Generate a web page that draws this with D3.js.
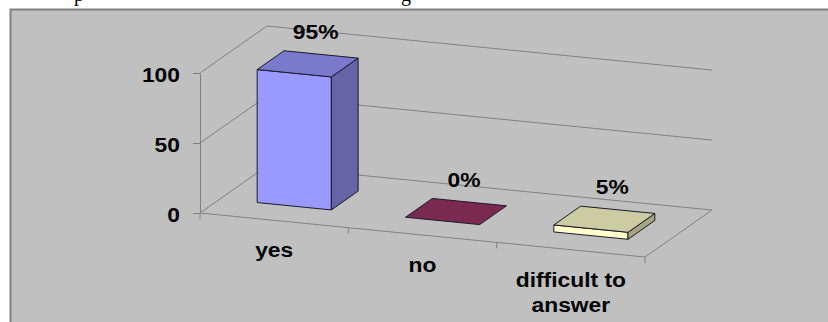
<!DOCTYPE html>
<html>
<head>
<meta charset="utf-8">
<script src="https://cdn.jsdelivr.net/npm/d3@7"></script>
<style>
  html, body { margin: 0; padding: 0; background: #ffffff; }
  svg { display: block; }
</style>
</head>
<body>
<svg id="chart" width="828" height="322"></svg>
<script>
// Survey answers, in percent
const categories = ["yes", "no", "difficult to answer"];
const values = [95, 0, 5];
const valueLabels = ["95%", "0%", "5%"];
const valueTicks = [0, 50, 100];
const barColors = ["#9999ff", "#993366", "#ffffcc"];

const W = 828, H = 322;
const svg = d3.select("#chart");
const FONT = "'Liberation Sans', Arial, sans-serif";
const STRETCH = 1.17; // horizontal stretch of the chart text

// Oblique 3D projection: category axis runs along the sloped floor,
// depth goes up-right, values go straight up.
const origin = { x: 200, y: 213 };
const floorLen = 445;
const floorSlope = 0.099;
const depthVec = { x: 67, y: -47 };

const xBand = d3.scaleBand()
  .domain(categories)
  .range([0, floorLen])
  .paddingInner(0.5)
  .paddingOuter(0.25);
const yVal = d3.scaleLinear().domain([0, 100]).range([0, 140]);
const zDepth = d3.scaleLinear().domain([0, 1]).range([0, 1]);

function P(c, v, d) {
  const k = zDepth(d);
  return [
    origin.x + c + depthVec.x * k,
    origin.y + floorSlope * c - yVal(v) + depthVec.y * k
  ];
}

// Chart panel
svg.append("rect")
  .attr("x", 10.5).attr("y", 9.5)
  .attr("width", W).attr("height", H)
  .attr("fill", "#c0c0c0")
  .attr("stroke", "#808080").attr("stroke-width", 2);

// Descenders of the preceding text line
const above = svg.append("g")
  .attr("font-family", "'Liberation Serif', 'Times New Roman', serif")
  .attr("font-size", 20).attr("fill", "#000");
above.append("text").attr("x", 74).attr("y", 0.5).text("p");
above.append("text").attr("x", 401).attr("y", 0.5).text("g");

const grid = svg.append("g")
  .attr("stroke", "#808080").attr("stroke-width", 1).attr("fill", "none");
const line = d3.line();

// Left wall diagonals and back wall gridlines
valueTicks.forEach(v => {
  grid.append("path").attr("d", line([P(0, v, 0), P(0, v, 1)]));
  grid.append("path").attr("d", line([P(0, v, 1), P(floorLen, v, 1)]));
});
// Floor: front edge and right edge
grid.append("path").attr("d", line([P(0, 0, 0), P(floorLen, 0, 0)]));
grid.append("path").attr("d", line([P(floorLen, 0, 0), P(floorLen, 0, 1)]));

// Category tick marks on the floor front edge
const step = xBand.step();
const boundaries = d3.range(categories.length + 1).map(i => i * step);
boundaries.forEach(c => {
  const p = P(c, 0, 0);
  grid.append("path").attr("d", line([p, [p[0], p[1] + 6]]));
});

// Value axis on the front-left edge
const yScreen = d3.scaleLinear().domain([0, 100]).range([origin.y, origin.y - yVal(100)]);
const yAxis = svg.append("g")
  .attr("transform", `translate(${origin.x},0)`)
  .call(d3.axisLeft(yScreen).tickValues(valueTicks).tickSize(7).tickSizeOuter(0).tickPadding(13));
yAxis.selectAll("path, line").attr("stroke", "#808080").attr("shape-rendering", "crispEdges");
yAxis.selectAll("text")
  .attr("x", null).attr("dy", null)
  .attr("transform", "translate(-20,8) scale(" + STRETCH + ",1)")
  .attr("font-family", FONT).attr("font-size", 19.5).attr("font-weight", "bold")
  .attr("fill", "#000");

// Bars
const depth0 = 0.3, depth1 = 0.7;
const bars = svg.append("g").attr("stroke", "#1a1a2a").attr("stroke-width", 1)
  .attr("stroke-linejoin", "round");
categories.forEach((cat, i) => {
  const x0 = xBand(cat), x1 = x0 + xBand.bandwidth();
  const v = values[i];
  const base = d3.color(barColors[i]);
  const topC = base.darker(0.63).formatHex();
  const sideC = base.darker(1.2).formatHex();
  const poly = pts => "M" + pts.map(p => p.join(",")).join("L") + "Z";
  if (v > 0) {
    bars.append("path").attr("fill", base.formatHex())
      .attr("d", poly([P(x0, 0, depth0), P(x1, 0, depth0), P(x1, v, depth0), P(x0, v, depth0)]));
    bars.append("path").attr("fill", sideC)
      .attr("d", poly([P(x1, 0, depth0), P(x1, 0, depth1), P(x1, v, depth1), P(x1, v, depth0)]));
  }
  bars.append("path").attr("fill", topC)
    .attr("d", poly([P(x0, v, depth0), P(x1, v, depth0), P(x1, v, depth1), P(x0, v, depth1)]));
});

// Value labels above each bar
const lbl = svg.append("g")
  .attr("font-family", FONT).attr("font-size", 19.5).attr("font-weight", "bold")
  .attr("fill", "#000").attr("text-anchor", "middle");
categories.forEach((cat, i) => {
  const c = xBand(cat) + xBand.bandwidth() / 2;
  const p = P(c, values[i], (depth0 + depth1) / 2);
  lbl.append("text")
    .attr("transform", `translate(${p[0] + 8},${p[1] - 25}) scale(${STRETCH},1)`)
    .text(valueLabels[i]);
});

// Category labels under the floor, wrapped to short lines
function wrap(text, maxChars) {
  const words = text.split(" ");
  const lines = [];
  let cur = "";
  words.forEach(w => {
    const t = cur ? cur + " " + w : w;
    if (t.length > maxChars && cur) { lines.push(cur); cur = w; }
    else cur = t;
  });
  if (cur) lines.push(cur);
  return lines;
}
categories.forEach(cat => {
  const c = xBand(cat) + xBand.bandwidth() / 2;
  const p = P(c, 0, 0);
  wrap(cat, 12).forEach((ln, j) => {
    lbl.append("text")
      .attr("transform", `translate(${p[0]},${p[1] + 37 + j * 25}) scale(${STRETCH},1)`)
      .text(ln);
  });
});
</script>
</body>
</html>
